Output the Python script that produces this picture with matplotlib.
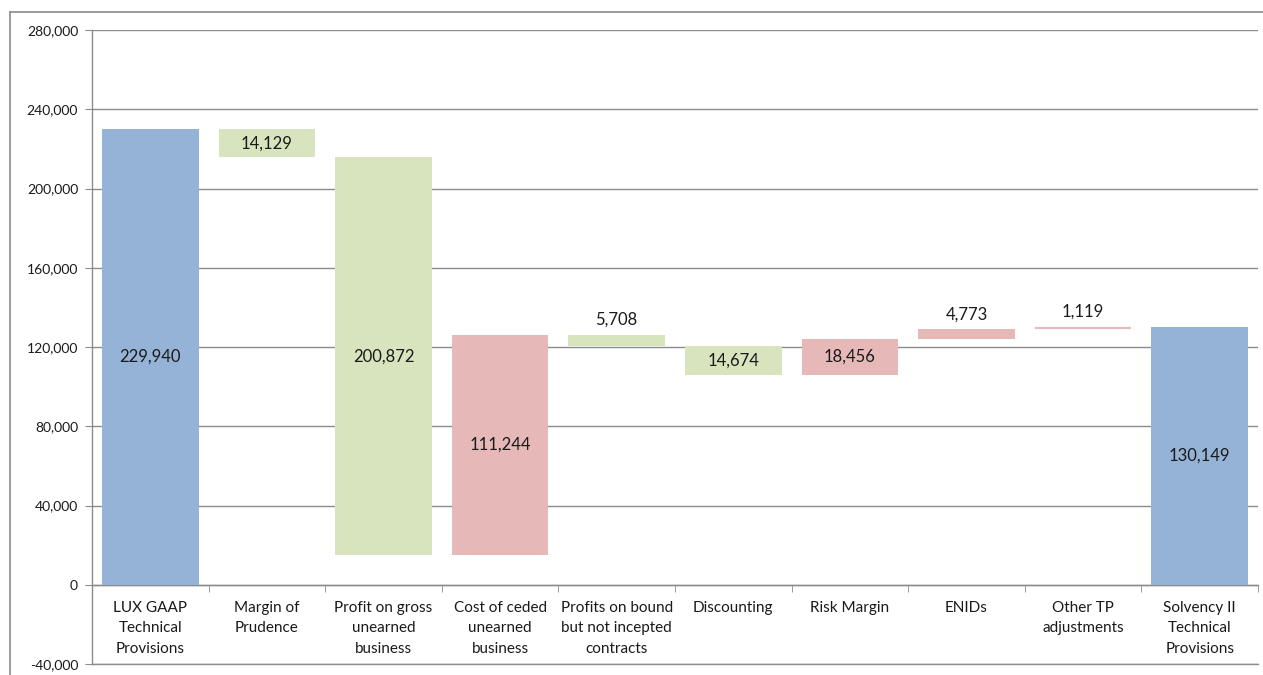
import matplotlib
matplotlib.use("Agg")
import matplotlib.pyplot as plt
from matplotlib.lines import Line2D
from matplotlib.ticker import FuncFormatter, MultipleLocator, FixedLocator
import numpy as np

# Waterfall: LUX GAAP -> Solvency II technical provisions
categories = [
    "LUX GAAP\nTechnical\nProvisions",
    "Margin of\nPrudence",
    "Profit on gross\nunearned\nbusiness",
    "Cost of ceded\nunearned\nbusiness",
    "Profits on bound\nbut not incepted\ncontracts",
    "Discounting",
    "Risk Margin",
    "ENIDs",
    "Other TP\nadjustments",
    "Solvency II\nTechnical\nProvisions",
]
opening_total = 229940
movements = [-14129, -200872, 111244, -5708, -14674, 18456, 4773, 1119]
closing_total = 130149

COL_TOTAL = "#95B3D7"
COL_DOWN = "#D7E4BD"
COL_UP = "#E6B9B8"
GRID = "#8C8C8C"

plt.rcParams["font.family"] = ["Lato", "DejaVu Sans"]

fig = plt.figure(figsize=(12.63, 6.75), dpi=100)
ax = fig.add_axes([92 / 1263, 11 / 675, (1258 - 92) / 1263, (664 - 30) / 675])

# bar geometry
bottoms, heights, colors, values = [], [], [], []
bottoms.append(0); heights.append(opening_total); colors.append(COL_TOTAL); values.append(opening_total)
level = opening_total
for m in movements:
    new = level + m
    bottoms.append(min(level, new))
    heights.append(abs(m))
    colors.append(COL_UP if m > 0 else COL_DOWN)
    values.append(abs(m))
    level = new
bottoms.append(0); heights.append(closing_total); colors.append(COL_TOTAL); values.append(closing_total)

x = np.arange(len(categories))
ax.bar(x, heights, bottom=bottoms, width=0.83, color=colors, edgecolor="none", zorder=3)

# value labels: inside the bar, or above it for thin bars
for xi, b, h, v in zip(x, bottoms, heights, values):
    label = f"{v:,}"
    if h >= 10000:
        ax.text(xi, b + h / 2, label, ha="center", va="center", fontsize=12, color="#1a1a1a", zorder=4)
    else:
        ax.annotate(label, (xi, b + h), xytext=(0, 5), textcoords="offset points",
                    ha="center", va="bottom", fontsize=12, color="#1a1a1a", zorder=4)

ax.set_xlim(-0.5, len(categories) - 0.5)
ax.set_ylim(-40000, 280000)
ax.yaxis.set_major_locator(MultipleLocator(40000))
ax.yaxis.set_major_formatter(FuncFormatter(lambda v, p: f"{int(v):,}"))
ax.yaxis.grid(True, color=GRID, linewidth=1.0, zorder=0)
ax.axhline(-40000, color=GRID, linewidth=1.0, clip_on=False, zorder=0)
ax.set_axisbelow(True)

for s in ["top", "right"]:
    ax.spines[s].set_visible(False)
ax.spines["left"].set_color(GRID)
ax.spines["left"].set_linewidth(1.0)
ax.spines["bottom"].set_position(("data", 0))
ax.spines["bottom"].set_color(GRID)
ax.spines["bottom"].set_linewidth(1.0)

ax.tick_params(axis="y", direction="out", length=5, color=GRID, labelsize=10,
               labelcolor="#1a1a1a", pad=5)
ax.set_xticks(x)
ax.set_xticklabels(categories, fontsize=11, color="#1a1a1a", linespacing=1.6)
ax.tick_params(axis="x", which="major", length=0, pad=11.5)
ax.xaxis.set_minor_locator(FixedLocator(np.arange(0.5, len(categories), 1.0)))
ax.tick_params(axis="x", which="minor", direction="out", length=5, color=GRID)

# chart frame
fig.add_artist(Line2D([10 / 1263, 10 / 1263], [0, 663 / 675], color="#8a8a8a", linewidth=1.2))
fig.add_artist(Line2D([10 / 1263, 1], [663 / 675, 663 / 675], color="#8a8a8a", linewidth=1.2))

fig.savefig("out.png", dpi=100)
